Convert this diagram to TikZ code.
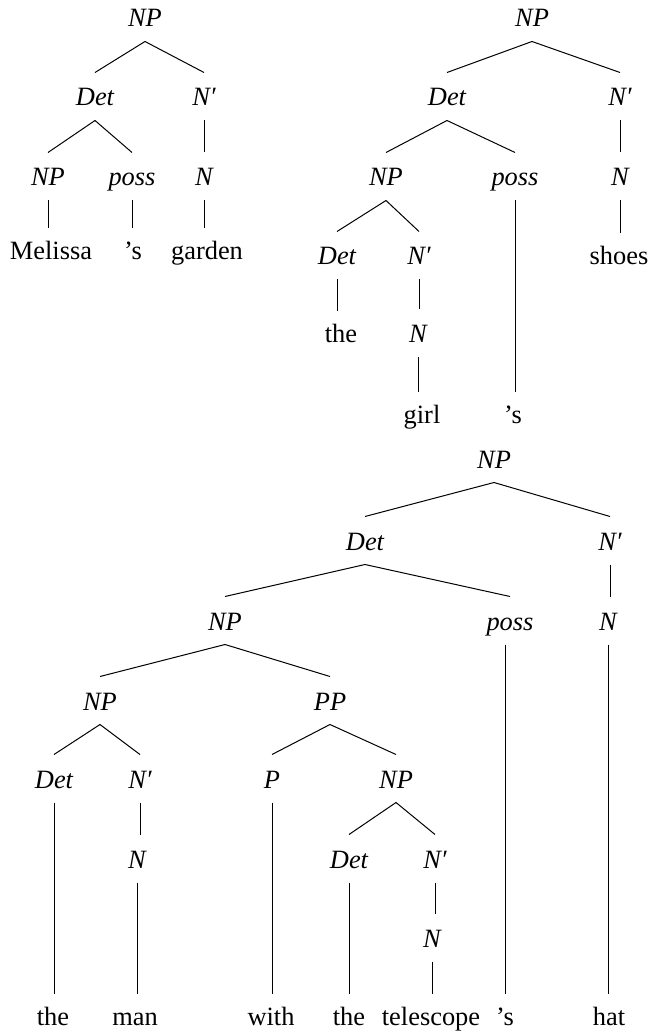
\documentclass[tikz,border=0pt]{standalone}
\usepackage{fontspec}
\setmainfont{Liberation Serif}
\newcommand\treefont{\fontsize{13.2}{15}\selectfont}

\begin{document}
\begin{tikzpicture}[x=0.5pt, y=-0.5pt, line width=0.5pt,
          cat/.style={font=\treefont\itshape, anchor=base, text height=13pt,
                      text depth=3.5pt, inner xsep=1pt, inner ysep=3.5pt},
          lex/.style={cat, font=\treefont, text height=12pt}]
        \useasboundingbox (0,0) rectangle (650,1031);
        % Melissa's garden
        \node[cat] (np1) at (145,27) {NP};
        \node[cat] (det1) at (95,106) {Det};
        \node[cat] (nb1) at (204,106) {N′};
        \node[cat] (np1a) at (48,186) {NP};
        \node[cat] (poss1) at (132,186) {poss};
        \node[cat] (n1) at (204,186) {N};
        \node[lex] (mel) at (51,260) {Melissa};
        \node[lex] (s1) at (133,260) {’s};
        \node[lex] (garden) at (207,260) {garden};
        \draw (np1.south) -- (det1.north);
        \draw (np1.south) -- (nb1.north);
        \draw (det1.south) -- (np1a.north);
        \draw (det1.south) -- (poss1.north);
        \draw (nb1.south) -- (nb1.south |- n1.north);
        \draw (np1a.south) -- (np1a.south |- mel.north);
        \draw (poss1.south) -- (poss1.south |- s1.north);
        \draw (n1.south) -- (n1.south |- garden.north);
        % the girl's shoes
        \node[cat] (np2) at (532,27) {NP};
        \node[cat] (det2) at (447,106) {Det};
        \node[cat] (nb2) at (620,106) {N′};
        \node[cat] (np2a) at (386,186) {NP};
        \node[cat] (poss2) at (515,186) {poss};
        \node[cat] (n2) at (620,186) {N};
        \node[cat] (det2a) at (337,265) {Det};
        \node[cat] (nb2a) at (419,265) {N′};
        \node[lex] (shoes) at (619,265) {shoes};
        \node[lex] (the2) at (341,343) {the};
        \node[cat] (n2a) at (418,343) {N};
        \node[lex] (girl) at (422,423) {girl};
        \node[lex] (s2) at (513,423) {’s};
        \draw (np2.south) -- (det2.north);
        \draw (np2.south) -- (nb2.north);
        \draw (det2.south) -- (np2a.north);
        \draw (det2.south) -- (poss2.north);
        \draw (nb2.south) -- (nb2.south |- n2.north);
        \draw (n2.south) -- (n2.south |- shoes.north);
        \draw (np2a.south) -- (det2a.north);
        \draw (np2a.south) -- (nb2a.north);
        \draw (det2a.south) -- (det2a.south |- the2.north);
        \draw (nb2a.south) -- (nb2a.south |- n2a.north);
        \draw (n2a.south) -- (n2a.south |- girl.north);
        \draw (poss2.south) -- (poss2.south |- s2.north);
        % the man with the telescope's hat
        \node[cat] (np3) at (494,468) {NP};
        \node[cat] (det3) at (365,550) {Det};
        \node[cat] (nb3) at (610,550) {N′};
        \node[cat] (np3a) at (225,630) {NP};
        \node[cat] (poss3) at (510,630) {poss};
        \node[cat] (n3) at (608,630) {N};
        \node[cat] (np3b) at (100,710) {NP};
        \node[cat] (pp3) at (330,710) {PP};
        \node[cat] (det3a) at (54,788) {Det};
        \node[cat] (nb3a) at (140,788) {N′};
        \node[cat] (p3) at (272,788) {P};
        \node[cat] (np3c) at (396,788) {NP};
        \node[cat] (n3a) at (137,868) {N};
        \node[cat] (det3b) at (349,868) {Det};
        \node[cat] (nb3b) at (435,868) {N′};
        \node[cat] (n3b) at (432,947) {N};
        \node[lex] (the3a) at (53,1025) {the};
        \node[lex] (man) at (135,1025) {man};
        \node[lex] (with) at (271,1025) {with};
        \node[lex] (the3b) at (349,1025) {the};
        \node[lex] (tele) at (431,1025) {telescope};
        \node[lex] (s3) at (505,1025) {’s};
        \node[lex] (hat) at (609,1025) {hat};
        \draw (np3.south) -- (det3.north);
        \draw (np3.south) -- (nb3.north);
        \draw (det3.south) -- (np3a.north);
        \draw (det3.south) -- (poss3.north);
        \draw (nb3.south) -- (nb3.south |- n3.north);
        \draw (n3.south) -- (n3.south |- hat.north);
        \draw (s3.north |- poss3.south) -- (s3.north);
        \draw (np3a.south) -- (np3b.north);
        \draw (np3a.south) -- (pp3.north);
        \draw (np3b.south) -- (det3a.north);
        \draw (np3b.south) -- (nb3a.north);
        \draw (det3a.south) -- (det3a.south |- the3a.north);
        \draw (nb3a.south) -- (nb3a.south |- n3a.north);
        \draw (n3a.south) -- (n3a.south |- man.north);
        \draw (pp3.south) -- (p3.north);
        \draw (pp3.south) -- (np3c.north);
        \draw (p3.south) -- (p3.south |- with.north);
        \draw (np3c.south) -- (det3b.north);
        \draw (np3c.south) -- (nb3b.north);
        \draw (det3b.south) -- (det3b.south |- the3b.north);
        \draw (nb3b.south) -- (nb3b.south |- n3b.north);
        \draw (n3b.south) -- (n3b.south |- tele.north);
      \end{tikzpicture}
\end{document}
